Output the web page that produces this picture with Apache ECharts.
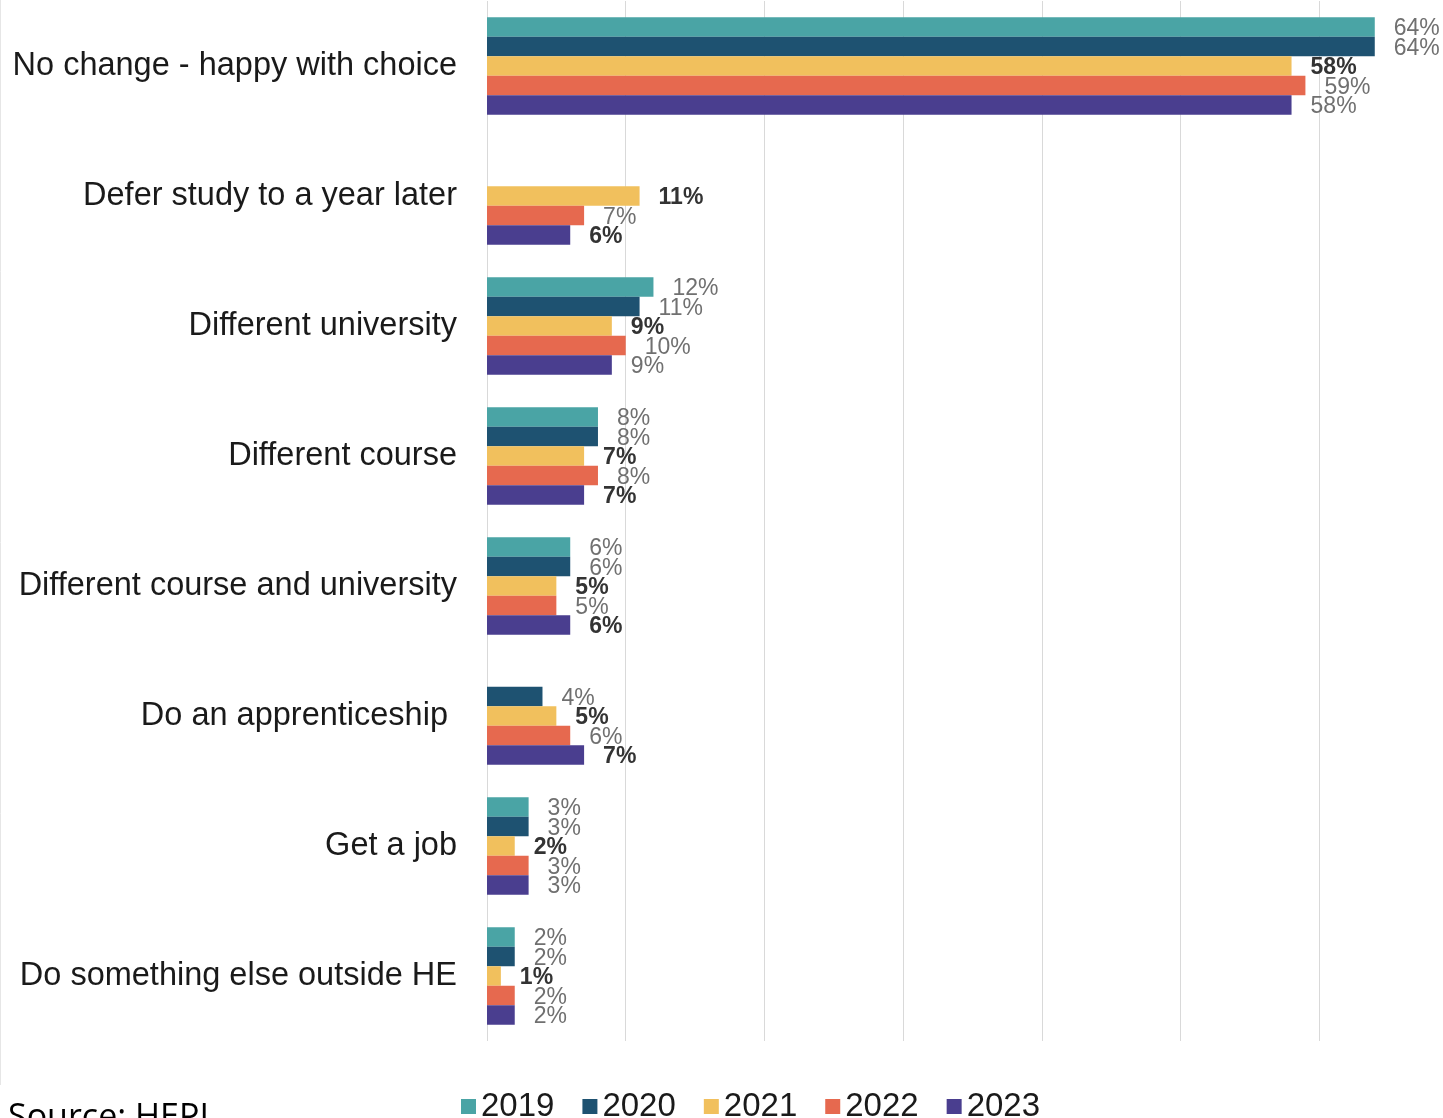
<!DOCTYPE html>
<html>
<head>
<meta charset="utf-8">
<script src="https://cdn.jsdelivr.net/npm/echarts@6/dist/echarts.min.js"></script>
<style>
html,body{margin:0;padding:0;background:#fff;overflow:hidden;width:1443px;height:1118px;}
#chart{width:1460px;height:1118px;}
</style>
</head>
<body>
<div id="chart"></div>
<script>
const categories = [
  'No change - happy with choice',
  'Defer study to a year later',
  'Different university',
  'Different course',
  'Different course and university',
  'Do an apprenticeship ',
  'Get a job',
  'Do something else outside HE'
];
const years = ['2019', '2020', '2021', '2022', '2023'];
const v2019 = [64, null, 12, 8, 6, null, 3, 2];
const v2020 = [64, null, 11, 8, 6, 4, 3, 2];
const v2021 = [58, 11, 9, 7, 5, 5, 2, 1];
const v2022 = [59, 7, 10, 8, 5, 6, 3, 2];
const v2023 = [58, 6, 9, 7, 6, 7, 3, 2];
const xTicks = [0, 10, 20, 30, 40, 50, 60, 70];

const values = [v2019, v2020, v2021, v2022, v2023];
const colors = ['#4aa4a5', '#1e5271', '#f1c05d', '#e6694f', '#4a3e8f'];
// labels drawn bold for these (series index -> category indices)
const boldLabels = {2: [0,1,2,3,4,5,6,7], 4: [1,3,4,5]};

const chart = echarts.init(document.getElementById('chart'));
const series = years.map((y, si) => ({
  name: y,
  type: 'bar',
  barGap: '0%',
  barCategoryGap: '25%',
  itemStyle: {color: colors[si]},
  label: {
    show: true,
    position: 'right',
    distance: 19,
    offset: [0, 2],
    formatter: p => p.value == null ? '' : p.value + '%',
    fontFamily: 'Liberation Sans, Arial, sans-serif',
    fontSize: 23,
    color: '#707070'
  },
  data: values[si].map((v, ci) => {
    const bold = boldLabels[si] && boldLabels[si].indexOf(ci) >= 0;
    return bold ? {value: v, label: {fontWeight: 'bold', color: '#333'}} : {value: v};
  })
}));

chart.setOption({
  animation: false,
  color: colors,
  grid: {left: 487, top: 1, width: 971, height: 1040, containLabel: false},
  xAxis: {
    type: 'value', min: xTicks[0], max: xTicks[xTicks.length - 1], interval: 10,
    axisLabel: {show: false}, axisLine: {show: false}, axisTick: {show: false},
    splitLine: {show: true, lineStyle: {color: '#d9d9d9', width: 1}}
  },
  yAxis: {
    type: 'category', data: categories, inverse: true,
    axisLine: {show: false}, axisTick: {show: false},
    axisLabel: {fontFamily: 'Liberation Sans, Arial, sans-serif', fontSize: 32.5, color: '#1a1a1a', margin: 30, padding: [5, 0, 0, 0]}
  },
  legend: {
    data: years, left: 456, top: 1085, icon: 'rect', itemWidth: 15, itemHeight: 15,
    itemGap: 28, textStyle: {fontFamily: 'Liberation Sans, Arial, sans-serif', fontSize: 33, color: '#1a1a1a'}
  },
  graphic: [
    {type: 'text', left: 8, top: 1101, style: {text: 'Source: HEPI', font: '34px "Open Sans", sans-serif', fill: '#000'}},
    {type: 'line', shape: {x1: 0.5, y1: 0, x2: 0.5, y2: 1085}, style: {stroke: '#e6e6e6', lineWidth: 1}}
  ],
  series: series
});
</script>
</body>
</html>
